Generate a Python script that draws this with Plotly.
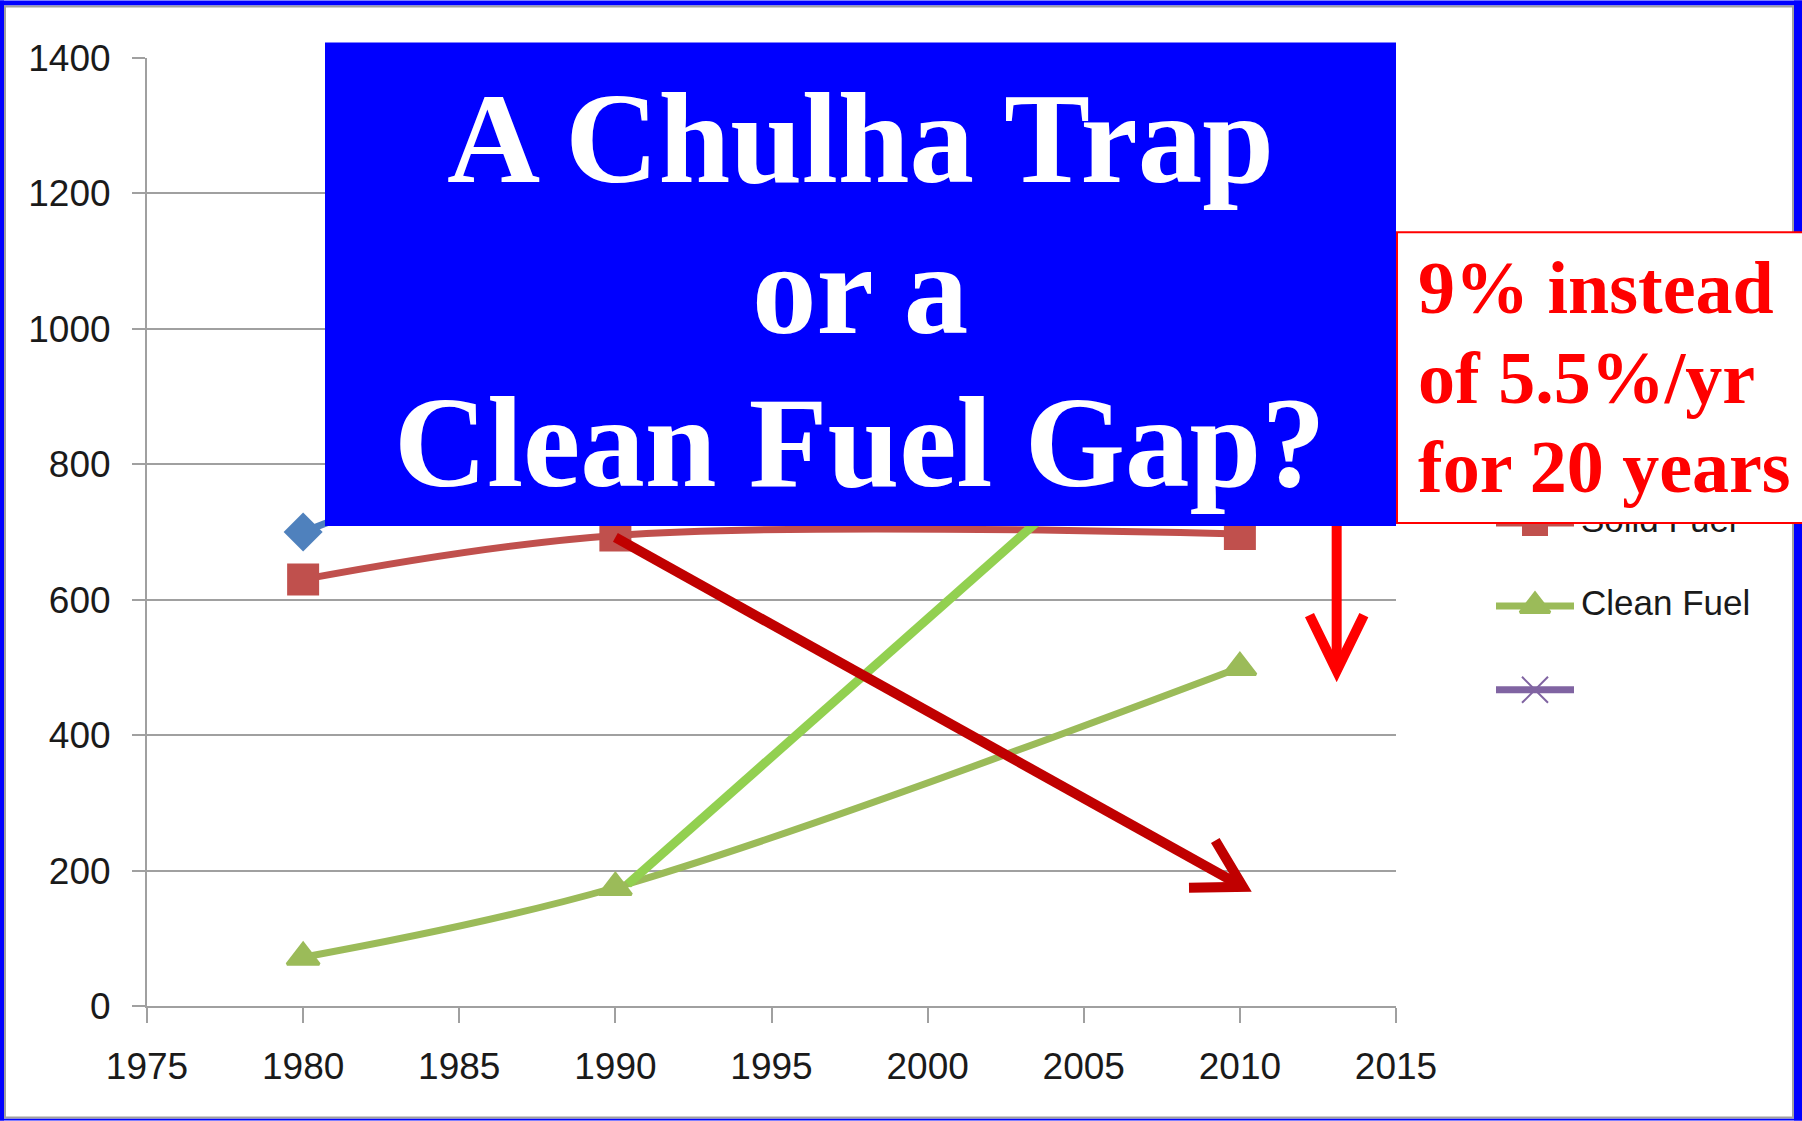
import math
import plotly.graph_objects as go

# ---------------- data ----------------
years = [1980, 1990, 2010]
total_fuel = [700, 875, 1200]
solid_fuel = [630, 695, 697]
clean_fuel = [72, 175, 500]
series_names = ["Total Fuel", "Solid Fuel", "Clean Fuel", ""]
series_colors = ["#4F81BD", "#C0504D", "#9BBB59", "#8064A2"]
series_symbols = ["diamond", "square", "triangle-up", "x-thin"]
series_sizes = [30, 32, 28, 24]
series_marker_lw = [0, 0, 3, 2]

x_ticks = [1975, 1980, 1985, 1990, 1995, 2000, 2005, 2010, 2015]
y_ticks = [0, 200, 400, 600, 800, 1000, 1200, 1400]

# overlay annotations (data units)
growth_x = [1990.4, 2010]      # 9%/yr path
growth_y = [180, 980]
decline_x = [1990, 2010.1]     # solid fuel decline arrow
decline_y = [692, 176]
drop_x = [2013.1, 2013.1]      # gap arrow
drop_y = [980, 495]

title_lines = ["A Chulha Trap", "or a", "Clean Fuel Gap?"]
note_lines = ["9% instead", "of 5.5%/yr", "for 20 years"]

# ---------------- geometry ----------------
W, H = 1802, 1121
L, R, T, B = 147, 1396, 57.5, 1006.5
X0, X1, Y0, Y1 = 1975, 2015, 0, 1400
LEG_X0 = 1400


def px(xd):
    return L + (xd - X0) / (X1 - X0) * (R - L)


def py(yd):
    return B - (yd - Y0) / (Y1 - Y0) * (B - T)


def dx(p):
    return X0 + (p - L) / (R - L) * (X1 - X0)


def dy(p):
    return Y0 + (B - p) / (B - T) * (Y1 - Y0)


def paper_x(p):
    return (p - L) / (W - L)


def paper_y(p):
    return (B - p) / (B - T)


def arrow_head_path(xs, ys, leg_len, ang_deg):
    tx, ty = px(xs[0]), py(ys[0])
    hx, hy = px(xs[1]), py(ys[1])
    vx, vy = tx - hx, ty - hy
    n = math.hypot(vx, vy)
    vx, vy = vx / n, vy / n
    pts = []
    for s in (1, -1):
        a = math.radians(ang_deg * s)
        rx = vx * math.cos(a) - vy * math.sin(a)
        ry = vx * math.sin(a) + vy * math.cos(a)
        pts.append((hx + rx * leg_len, hy + ry * leg_len))
    return "M {},{} L {},{} L {},{}".format(
        dx(pts[0][0]), dy(pts[0][1]), xs[1], ys[1], dx(pts[1][0]), dy(pts[1][1]))


def marker_style(i, shrink=0):
    return dict(symbol=series_symbols[i], size=series_sizes[i] - shrink,
                color=series_colors[i],
                line=dict(color=series_colors[i], width=series_marker_lw[i]))


fig = go.Figure()

series_values = [total_fuel, solid_fuel, clean_fuel]
for i, vals in enumerate(series_values):
    fig.add_trace(go.Scatter(
        x=years, y=vals, name=series_names[i], mode="lines+markers",
        line=dict(color=series_colors[i], width=7, shape="spline"),
        marker=marker_style(i),
        showlegend=False, xaxis="x", yaxis="y"))

# ---- legend, drawn in its own pixel-scaled subplot (so the note box can cover it)
leg_rows = [439, 523, 606, 690]
leg_line = [1496, 1574]
leg_text_x = 1581
leg_shrink = [6, 6, 2, -2]
for i in range(4):
    fig.add_trace(go.Scatter(
        x=leg_line, y=[leg_rows[i], leg_rows[i]], mode="lines",
        line=dict(color=series_colors[i], width=7),
        showlegend=False, xaxis="x2", yaxis="y2", hoverinfo="skip"))
    fig.add_trace(go.Scatter(
        x=[(leg_line[0] + leg_line[1]) / 2], y=[leg_rows[i]], mode="markers",
        marker=marker_style(i, leg_shrink[i]), showlegend=False,
        xaxis="x2", yaxis="y2", hoverinfo="skip"))
    if series_names[i]:
        fig.add_trace(go.Scatter(
            x=[leg_text_x], y=[leg_rows[i]], mode="text", text=[series_names[i]],
            textposition="middle right",
            textfont=dict(family="Liberation Sans, Arial, sans-serif", size=35,
                          color="#1A1A1A"),
            showlegend=False, xaxis="x2", yaxis="y2", hoverinfo="skip"))

shapes = []
# bright green 9% growth line
shapes.append(dict(type="line", xref="x", yref="y",
                   x0=growth_x[0], y0=growth_y[0], x1=growth_x[1], y1=growth_y[1],
                   line=dict(color="#92D050", width=9), layer="above"))
# dark red decline arrow
shapes.append(dict(type="line", xref="x", yref="y",
                   x0=decline_x[0], y0=decline_y[0], x1=decline_x[1], y1=decline_y[1],
                   line=dict(color="#C00000", width=10), layer="above"))
shapes.append(dict(type="path", xref="x", yref="y",
                   path=arrow_head_path(decline_x, decline_y, 54, 30),
                   line=dict(color="#C00000", width=10), layer="above"))
# bright red drop arrow
shapes.append(dict(type="line", xref="x", yref="y",
                   x0=drop_x[0], y0=drop_y[0], x1=drop_x[1], y1=drop_y[1],
                   line=dict(color="#FF0000", width=10), layer="above"))
shapes.append(dict(type="path", xref="x", yref="y",
                   path=arrow_head_path(drop_x, drop_y, 62, 26),
                   line=dict(color="#FF0000", width=10), layer="above"))
# outer frame
frame = [(0, 0, W, 5), (0, 0, 4, H), (W - 8, 0, W, H), (0, H - 2, W, H)]
for (a, b, c, d) in frame:
    shapes.append(dict(type="rect", xref="paper", yref="paper",
                       x0=paper_x(a), x1=paper_x(c), y0=paper_y(b), y1=paper_y(d),
                       fillcolor="#0000FF", line=dict(width=0), layer="above"))
shapes.append(dict(type="rect", xref="paper", yref="paper",
                   x0=paper_x(5), x1=paper_x(W - 9), y0=paper_y(6), y1=paper_y(H - 3),
                   fillcolor="rgba(0,0,0,0)", line=dict(color="#A0A0A0", width=2),
                   layer="above"))
# title box
shapes.append(dict(type="rect", xref="paper", yref="paper",
                   x0=paper_x(325), x1=paper_x(1396), y0=paper_y(42), y1=paper_y(526),
                   fillcolor="#0000FF", line=dict(width=0), layer="above"))
# note box
shapes.append(dict(type="rect", xref="paper", yref="paper",
                   x0=paper_x(1397), x1=paper_x(W + 10), y0=paper_y(232), y1=paper_y(523),
                   fillcolor="#FFFFFF", line=dict(color="#FF0000", width=2), layer="above"))

annotations = []
title_baselines = [182, 333, 486]
for txt, bl in zip(title_lines, title_baselines):
    annotations.append(dict(
        text=txt, xref="paper", yref="paper", x=paper_x(860), y=paper_y(bl - 44),
        xanchor="center", yanchor="middle", showarrow=False,
        font=dict(family="Liberation Serif, Times New Roman, serif", size=129,
                  color="#FFFFFF", weight="bold")))
note_baselines = [314, 404, 493]
for txt, bl in zip(note_lines, note_baselines):
    annotations.append(dict(
        text=txt, xref="paper", yref="paper", x=paper_x(1416), y=paper_y(bl - 26),
        xanchor="left", yanchor="middle", showarrow=False,
        font=dict(family="Liberation Serif, Times New Roman, serif", size=74,
                  color="#FF0000", weight="bold")))

axis_font = dict(family="Liberation Sans, Arial, sans-serif", size=37, color="#1A1A1A")

fig.update_layout(
    width=W, height=H, autosize=False,
    margin=dict(l=L, r=0, t=T, b=H - B, pad=0, autoexpand=False),
    paper_bgcolor="#FFFFFF", plot_bgcolor="#FFFFFF",
    shapes=shapes, annotations=annotations,
    showlegend=False,
    xaxis=dict(domain=[0, (R - L) / (W - L)], automargin=False,
               range=[X0, X1], tickvals=x_ticks, ticktext=[str(v) for v in x_ticks],
               ticks="outside", ticklen=15, tickwidth=2, tickcolor="#A0A0A0",
               showline=True, linecolor="#A0A0A0", linewidth=2,
               showgrid=False, zeroline=False, tickfont=axis_font,
               ticklabelstandoff=12),
    yaxis=dict(range=[Y0, Y1], tickvals=y_ticks, ticktext=[str(v) for v in y_ticks],
               automargin=False,
               ticks="outside", ticklen=13, tickwidth=2, tickcolor="#A0A0A0",
               showline=True, linecolor="#A0A0A0", linewidth=2,
               showgrid=True, gridcolor="#A0A0A0", gridwidth=2,
               zeroline=False, tickfont=axis_font, ticklabelstandoff=14),
    xaxis2=dict(domain=[(LEG_X0 - L) / (W - L), 1], range=[LEG_X0, W],
                visible=False, fixedrange=True, automargin=False),
    yaxis2=dict(anchor="x2", domain=[0, 1], range=[B, T],
                visible=False, fixedrange=True, automargin=False),
)

fig.write_html("out.html", post_script="document.body.style.margin='0px';",
               config={"displayModeBar": False})
